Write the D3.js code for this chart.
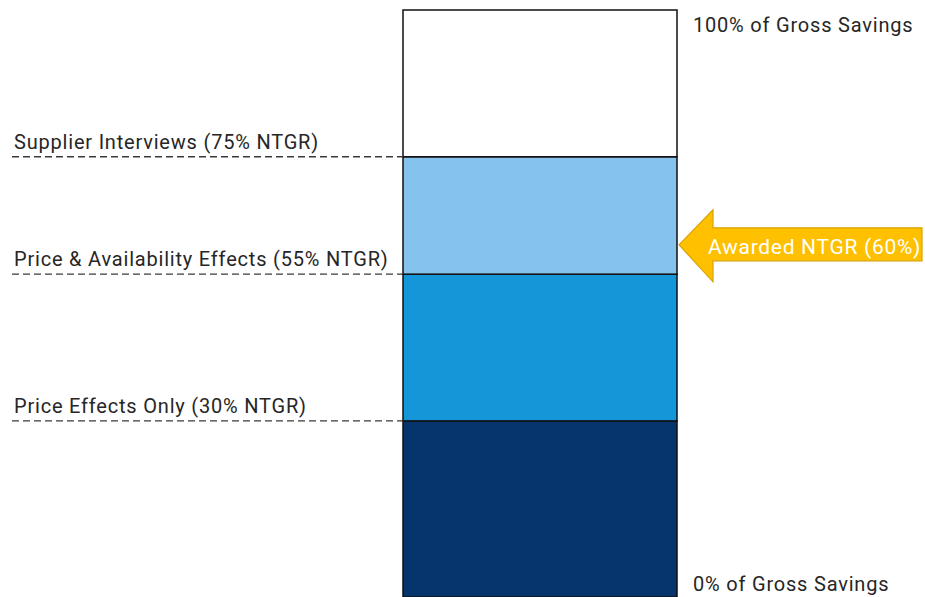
<!DOCTYPE html>
<html><head><meta charset="utf-8">
<script src="https://cdn.jsdelivr.net/npm/d3@7"></script>
<style>
html,body{margin:0;padding:0;background:#fff;}
svg{display:block;}
text{font-family:Roboto, "Open Sans", sans-serif;fill:#262626;}
</style></head>
<body>
<svg id="chart" width="925" height="597"></svg>
<script>
// Data
const segments = ["Price Effects Only", "Price & Availability Effects", "Supplier Interviews", "Remainder"];
const segmentStart = [0, 30, 55, 75];
const segmentEnd = [30, 55, 75, 100];
const segmentColors = ["#06346c", "#1496d9", "#85c3ec", "#ffffff"];
const thresholdLabels = ["Price Effects Only (30% NTGR)", "Price & Availability Effects (55% NTGR)", "Supplier Interviews (75% NTGR)"];
const thresholdValues = [30, 55, 75];
const endLabels = ["0% of Gross Savings", "100% of Gross Savings"];
const endValues = [0, 100];
const awardedLabel = "Awarded NTGR (60%)";
const awardedValue = 60;

const svg = d3.select("#chart");
const y = d3.scaleLinear().domain([0, 100]).range([597, 10]);
const x = d3.scaleLinear().domain([0, 1]).range([403, 677]);

// bar segments
svg.selectAll("rect.seg").data(segments).join("rect")
  .attr("class", "seg")
  .attr("x", x(0)).attr("width", x(1) - x(0))
  .attr("y", (d, i) => y(segmentEnd[i]))
  .attr("height", (d, i) => y(segmentStart[i]) - y(segmentEnd[i]))
  .attr("fill", (d, i) => segmentColors[i])
  .attr("stroke", "#111").attr("stroke-width", 1.5);

// dashed threshold lines
svg.selectAll("line.th").data(thresholdValues).join("line")
  .attr("class", "th")
  .attr("x1", 12).attr("x2", x(0))
  .attr("y1", d => y(d)).attr("y2", d => y(d))
  .attr("stroke", "#3a3a3a").attr("stroke-width", 1.4)
  .attr("stroke-dasharray", "7,4");

svg.selectAll("text.th").data(thresholdLabels).join("text")
  .attr("class", "th")
  .attr("x", 14).attr("y", (d, i) => y(thresholdValues[i]) - 8)
  .attr("font-size", 20)
  .attr("letter-spacing", 0.8)
  .text(d => d);

svg.selectAll("text.end").data(endLabels).join("text")
  .attr("class", "end")
  .attr("x", 693)
  .attr("y", (d, i) => endValues[i] === 0 ? y(0) - 6 : y(100) + 22)
  .attr("font-size", 20)
  .attr("letter-spacing", 0.8)
  .text(d => d);

// awarded arrow
const ya = y(awardedValue);
const tipX = x(1) + 2;
const headX = tipX + 34;
const endX = 922;
const p = d3.path();
p.moveTo(tipX, ya);
p.lineTo(headX, ya - 35);
p.lineTo(headX, ya - 17);
p.lineTo(endX, ya - 17);
p.lineTo(endX, ya + 16);
p.lineTo(headX, ya + 16);
p.lineTo(headX, ya + 37);
p.closePath();
svg.append("path").attr("d", p.toString())
  .attr("fill", "#ffc000").attr("stroke", "#d9a200").attr("stroke-width", 1.2);

svg.append("text")
  .attr("x", 708).attr("y", ya + 9)
  .attr("font-size", 21)
  .attr("letter-spacing", 0.7)
  .style("fill", "#ffffff")
  .text(awardedLabel);
</script>
</body></html>
